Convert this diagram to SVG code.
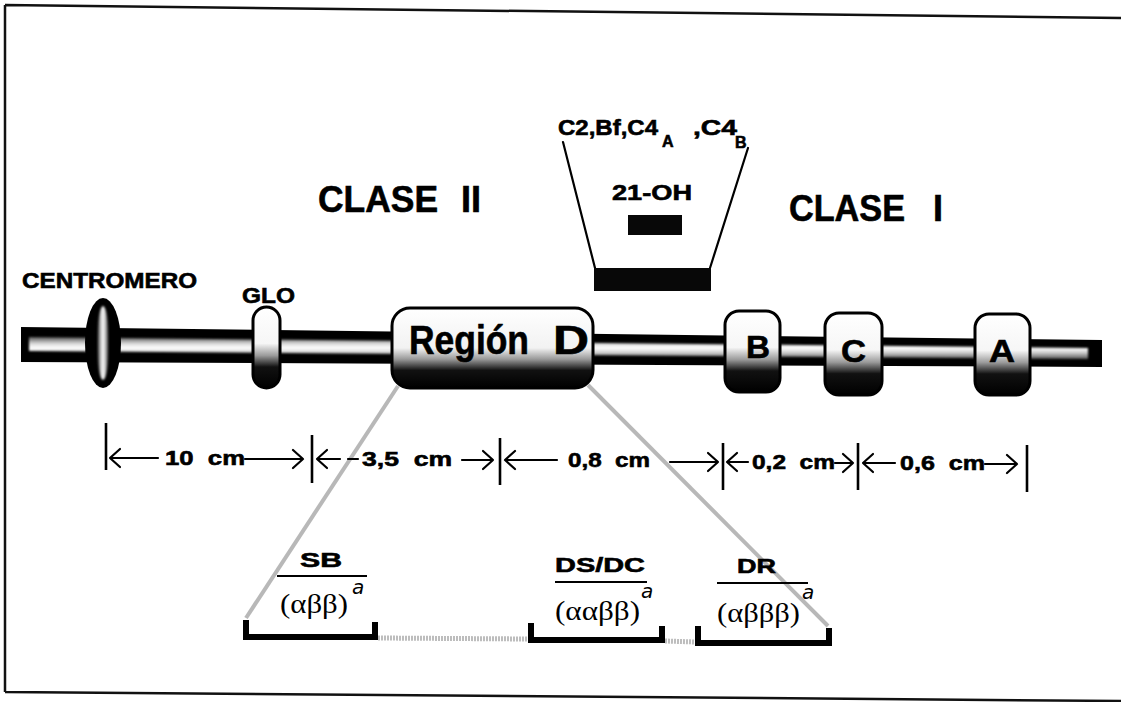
<svg xmlns="http://www.w3.org/2000/svg" width="1121" height="702" viewBox="0 0 1121 702">
  <style>
    .sans { font-family: "Liberation Sans", Arial, sans-serif; font-weight: bold; fill: #000; stroke: #000; stroke-width: 0.6; }
    .serif { font-family: "Liberation Serif", "Times New Roman", serif; fill: #000; }
    .sup { font-family: "DejaVu Sans", "Liberation Sans", sans-serif; font-style: italic; fill: #000; }
    .frame { fill: none; stroke: #111; stroke-width: 2.5; }
    .thin { fill: none; stroke: #000; stroke-width: 2.2; stroke-linecap: round; stroke-linejoin: round; }
    .tick { stroke: #000; stroke-width: 2.6; }
    .bracket { fill: none; stroke: #000; stroke-width: 6; stroke-linejoin: miter; }
    .link { stroke: #b8b8b8; stroke-width: 4; fill: none; }
    .dotted { stroke: #bdbdbd; stroke-width: 5; stroke-dasharray: 2 1; fill: none; }
    .rule { stroke: #000; stroke-width: 2; }
  </style>
  <defs>
    <linearGradient id="stripe" x1="0" y1="0" x2="0" y2="1">
      <stop offset="0" stop-color="#555"/>
      <stop offset="0.3" stop-color="#d8d8d8"/>
      <stop offset="0.5" stop-color="#fff"/>
      <stop offset="0.7" stop-color="#d0d0d0"/>
      <stop offset="1" stop-color="#555"/>
    </linearGradient>
    <linearGradient id="core" x1="0" y1="0" x2="1" y2="0">
      <stop offset="0" stop-color="#000"/>
      <stop offset="0.3" stop-color="#bbb"/>
      <stop offset="0.5" stop-color="#fff"/>
      <stop offset="0.7" stop-color="#bbb"/>
      <stop offset="1" stop-color="#000"/>
    </linearGradient>
    <linearGradient id="locus" x1="0" y1="0" x2="0" y2="1">
      <stop offset="0" stop-color="#fff"/>
      <stop offset="0.45" stop-color="#f6f6f6"/>
      <stop offset="0.6" stop-color="#9a9a9a"/>
      <stop offset="0.74" stop-color="#111"/>
      <stop offset="1" stop-color="#000"/>
    </linearGradient>
    <linearGradient id="regionFill" x1="0" y1="0" x2="0" y2="1">
      <stop offset="0" stop-color="#fff"/>
      <stop offset="0.5" stop-color="#f2f2f2"/>
      <stop offset="0.64" stop-color="#999"/>
      <stop offset="0.78" stop-color="#111"/>
      <stop offset="1" stop-color="#000"/>
    </linearGradient>
    <filter id="soft" x="-20%" y="-20%" width="140%" height="140%">
      <feGaussianBlur stdDeviation="1.2"/>
    </filter>
  </defs>

  <!-- page frame -->
  <path class="frame" d="M5,5 L1121,18 M5,5 L5,692 M5,692 L1121,701"/>

  <!-- chromosome arm -->
  <g id="chromosome">
    <polygon points="21,327 1102,340 1102,367 21,362" fill="#000"/>
    <polygon points="29,337 1088,348 1088,359 29,351" fill="url(#stripe)" filter="url(#soft)"/>
  </g>

  <!-- connectors: projection lines and spacer segments -->
  <g id="connectors">
    <line class="link" x1="398" y1="386" x2="246" y2="618"/>
    <line class="link" x1="588" y1="385" x2="828" y2="626"/>
    <line class="dotted" x1="378" y1="638" x2="528" y2="639"/>
    <line class="dotted" x1="665" y1="641" x2="695" y2="642"/>
    <line class="thin" x1="563" y1="142" x2="595" y2="268"/>
    <line class="thin" x1="748" y1="148" x2="710" y2="268"/>
  </g>

  <g id="centromere">
    <ellipse cx="103" cy="343" rx="18" ry="45" fill="#000"/>
    <ellipse cx="103" cy="343" rx="6" ry="37" fill="url(#core)" filter="url(#soft)"/>
    <text class="sans" x="22" y="288" font-size="22" textLength="175" lengthAdjust="spacingAndGlyphs">CENTROMERO</text>
  </g>

  <g id="glo">
    <rect x="253" y="307" width="27" height="81" rx="13.5" fill="url(#locus)" stroke="#000" stroke-width="3"/>
    <text class="sans" x="242" y="303" font-size="22" textLength="53" lengthAdjust="spacingAndGlyphs">GLO</text>
  </g>

  <g id="region-d">
    <rect x="392" y="308" width="201" height="80" rx="18" fill="url(#regionFill)" stroke="#000" stroke-width="3"/>
    <text class="sans" x="409" y="354" font-size="40" textLength="120" lengthAdjust="spacingAndGlyphs">Región</text>
    <text class="sans" x="553" y="354" font-size="40" textLength="36" lengthAdjust="spacingAndGlyphs">D</text>
  </g>

  <g id="locus-b">
    <rect x="725" y="311" width="55" height="81" rx="14" fill="url(#locus)" stroke="#000" stroke-width="3"/>
    <text class="sans" x="746" y="358" font-size="31" textLength="24" lengthAdjust="spacingAndGlyphs">B</text>
  </g>
  <g id="locus-c">
    <rect x="825" y="313" width="57" height="82" rx="14" fill="url(#locus)" stroke="#000" stroke-width="3"/>
    <text class="sans" x="841" y="362" font-size="31" textLength="25" lengthAdjust="spacingAndGlyphs">C</text>
  </g>
  <g id="locus-a">
    <rect x="975" y="314" width="55" height="81" rx="14" fill="url(#locus)" stroke="#000" stroke-width="3"/>
    <text class="sans" x="989" y="362" font-size="31" textLength="26" lengthAdjust="spacingAndGlyphs">A</text>
  </g>

  <!-- class III complement genes, expanded above the arm -->
  <g id="class-iii">
    <text class="sans" x="558" y="135" font-size="22" textLength="100" lengthAdjust="spacingAndGlyphs">C2,Bf,C4</text>
    <text class="sans" x="662" y="147" font-size="16">A</text>
    <text class="sans" x="693" y="135" font-size="22" textLength="44" lengthAdjust="spacingAndGlyphs">,C4</text>
    <text class="sans" x="735" y="148" font-size="16">B</text>
    <text class="sans" x="612" y="200" font-size="22" textLength="80" lengthAdjust="spacingAndGlyphs">21-OH</text>
    <rect x="628" y="215" width="54" height="20" fill="#080808"/>
    <rect x="594" y="268" width="117" height="23" fill="#080808"/>
  </g>

  <g id="class-labels">
    <text class="sans" x="318" y="212" font-size="36" textLength="120" lengthAdjust="spacingAndGlyphs">CLASE</text>
    <text class="sans" x="461" y="212" font-size="36">II</text>
    <text class="sans" x="789" y="221" font-size="36" textLength="116" lengthAdjust="spacingAndGlyphs">CLASE</text>
    <text class="sans" x="933" y="221" font-size="36">I</text>
  </g>

  <!-- map distances -->
  <g id="scale">
    <line class="tick" x1="106" y1="423" x2="106" y2="470"/>
    <line class="tick" x1="312" y1="435" x2="312" y2="483"/>
    <line class="tick" x1="500" y1="438" x2="500" y2="485"/>
    <line class="tick" x1="723" y1="443" x2="723" y2="490"/>
    <line class="tick" x1="858" y1="443" x2="858" y2="490"/>
    <line class="tick" x1="1027" y1="445" x2="1027" y2="492"/>

    <path class="thin" d="M158,458 H110 M120,449 L110,458 L120,467"/>
    <path class="thin" d="M245,459 H303 M293,450 L303,459 L293,468"/>
    <path class="thin" d="M340,459 H317 M327,450 L317,459 L327,468 M348,459 H358"/>
    <path class="thin" d="M462,460 H493 M483,451 L493,460 L483,469"/>
    <path class="thin" d="M557,460 H505 M515,451 L505,460 L515,469"/>
    <path class="thin" d="M670,462 H718 M708,453 L718,462 L708,471"/>
    <path class="thin" d="M748,462 H727 M737,453 L727,462 L737,471"/>
    <path class="thin" d="M835,463 H853 M843,454 L853,463 L843,472"/>
    <path class="thin" d="M895,463 H863 M873,454 L863,463 L873,472"/>
    <path class="thin" d="M985,464 H1017 M1007,455 L1017,464 L1007,473"/>

    <text class="sans" x="165" y="465" font-size="21" textLength="80" lengthAdjust="spacingAndGlyphs" xml:space="preserve">10  cm</text>
    <text class="sans" x="362" y="466" font-size="21" textLength="90" lengthAdjust="spacingAndGlyphs" xml:space="preserve">3,5  cm</text>
    <text class="sans" x="568" y="467" font-size="21" textLength="82" lengthAdjust="spacingAndGlyphs" xml:space="preserve">0,8  cm</text>
    <text class="sans" x="752" y="469" font-size="21" textLength="83" lengthAdjust="spacingAndGlyphs" xml:space="preserve">0,2  cm</text>
    <text class="sans" x="900" y="470" font-size="21" textLength="85" lengthAdjust="spacingAndGlyphs" xml:space="preserve">0,6  cm</text>
  </g>

  <!-- D region subregions -->
  <g id="sb">
    <polyline class="bracket" points="246,620 246,637 375,637 375,622"/>
    <text class="sans" x="300" y="567" font-size="21" textLength="42" lengthAdjust="spacingAndGlyphs">SB</text>
    <line class="rule" x1="277" y1="576" x2="367" y2="576"/>
    <text class="serif" x="280" y="613" font-size="28" textLength="68" lengthAdjust="spacingAndGlyphs">(αββ)</text>
    <text class="sup" x="352" y="594" font-size="20">a</text>
  </g>
  <g id="ds-dc">
    <polyline class="bracket" points="531,623 531,640 662,640 662,626"/>
    <text class="sans" x="555" y="572" font-size="21" textLength="90" lengthAdjust="spacingAndGlyphs">DS/DC</text>
    <line class="rule" x1="555" y1="582" x2="647" y2="582"/>
    <text class="serif" x="555" y="620" font-size="28" textLength="85" lengthAdjust="spacingAndGlyphs">(ααββ)</text>
    <text class="sup" x="641" y="598" font-size="20">a</text>
  </g>
  <g id="dr">
    <polyline class="bracket" points="698,626 698,643 829,643 829,628"/>
    <text class="sans" x="737" y="573" font-size="21" textLength="39" lengthAdjust="spacingAndGlyphs">DR</text>
    <line class="rule" x1="717" y1="583" x2="808" y2="583"/>
    <text class="serif" x="717" y="622" font-size="28" textLength="83" lengthAdjust="spacingAndGlyphs">(αβββ)</text>
    <text class="sup" x="802" y="599" font-size="20">a</text>
  </g>
</svg>
